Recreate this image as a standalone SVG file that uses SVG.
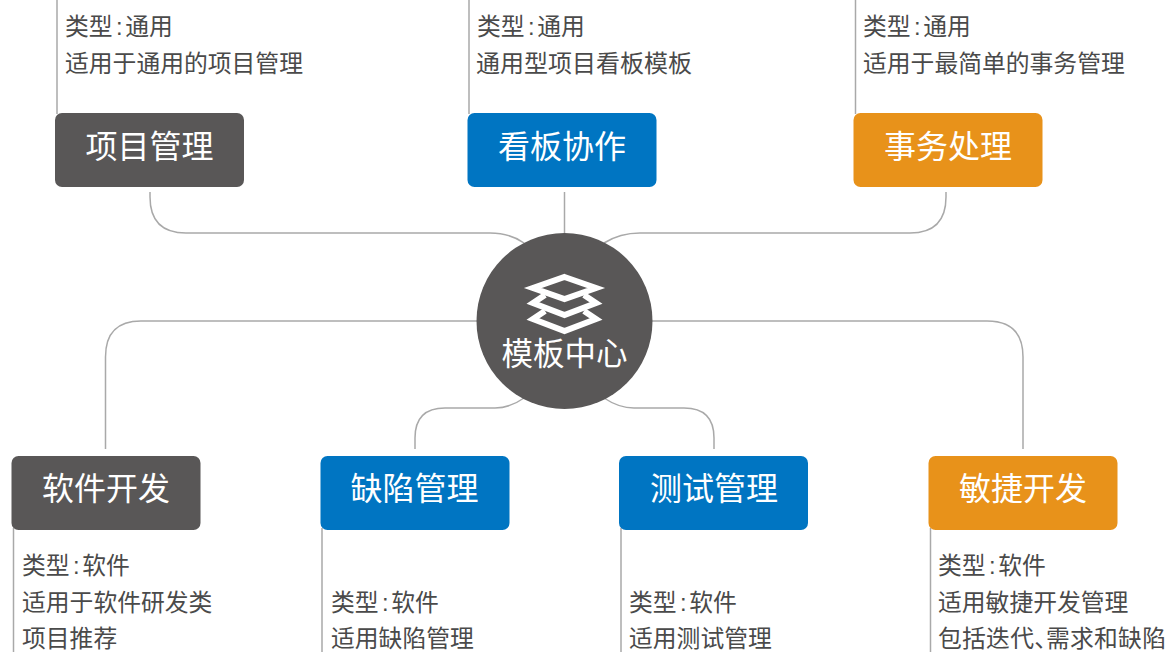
<svg xmlns="http://www.w3.org/2000/svg" width="1170" height="652" viewBox="0 0 1170 652">
<style>
text{font-family:"Liberation Sans","Noto Sans CJK SC",sans-serif}
.t{font-size:32px;fill:#fff;text-anchor:middle}
.d{font-size:23.800px;fill:#4a4a4a}
.c{fill:none;stroke:#a9a9a9;stroke-width:1.5}
.g{fill:#595757}.b{fill:#0075c2}.o{fill:#e8921a}
.s{fill:none;stroke:#fff;stroke-width:6;stroke-linejoin:miter}
</style>
<rect width="1170" height="652" fill="#fff"/>
<g id="connectors" class="c">
<path class="c" d="M150 192V197Q150 233 186 233H490Q510 233 524 243"/>
<path class="c" d="M946 192V197Q946 233 910 233H640Q620 233 604 243"/>
<path class="c" d="M564.500 192V240"/>
<path class="c" d="M105.500 449V357Q105.500 321 141 321H480"/>
<path class="c" d="M1023 449V357Q1023 321 987 321H650"/>
<path class="c" d="M415 449V438Q415 408 445 408H495Q510 408 524 398"/>
<path class="c" d="M714 449V438Q714 408 684 408H634Q619 408 604 398"/>
<path class="c" d="M57 0V114"/>
<path class="c" d="M469 0V114"/>
<path class="c" d="M855.500 0V114"/>
<path class="c" d="M13.500 528V652"/>
<path class="c" d="M322 528V652"/>
<path class="c" d="M621 528V652"/>
<path class="c" d="M930.500 528V652"/>
</g>
<g id="center">
<circle class="g" cx="564.500" cy="321" r="88"/>
<path class="s" d="M564.500 277L596 288L564.500 299L533 288Z"/>
<path class="s" d="M545 295L533 303L564.500 315L596 303L584 295"/>
<path class="s" d="M545 311L533 319L564.500 331L596 319L584 311"/>
<text class="t" x="564.500" y="365" style="font-size:31.500px">模板中心</text>
</g>
<g id="n1"><rect class="g" x="55" y="113" width="189" height="74" rx="7"/><text class="t" x="149.500" y="158">项目管理</text>
<text class="d" x="65" y="35">类型<tspan dx="3.500">:</tspan><tspan dx="2.500">通用</tspan></text><text class="d" x="65" y="72">适用于通用的项目管理</text></g>
<g id="n2"><rect class="b" x="467.500" y="113" width="189" height="74" rx="7"/><text class="t" x="562" y="158">看板协作</text>
<text class="d" x="477" y="35">类型<tspan dx="3.500">:</tspan><tspan dx="2.500">通用</tspan></text><text class="d" x="476" y="72" style="font-size:24px">通用型项目看板模板</text></g>
<g id="n3"><rect class="o" x="853.500" y="113" width="189" height="74" rx="7"/><text class="t" x="948" y="158">事务处理</text>
<text class="d" x="863" y="35">类型<tspan dx="3.500">:</tspan><tspan dx="2.500">通用</tspan></text><text class="d" x="863" y="72">适用于最简单的事务管理</text></g>
<g id="n4"><rect class="g" x="11.500" y="456" width="189" height="74" rx="7"/><text class="t" x="106" y="500">软件开发</text>
<text class="d" x="22" y="574">类型<tspan dx="3.500">:</tspan><tspan dx="2.500">软件</tspan></text><text class="d" x="22" y="611">适用于软件研发类</text><text class="d" x="22" y="647">项目推荐</text></g>
<g id="n5"><rect class="b" x="320.500" y="456" width="189" height="74" rx="7"/><text class="t" x="414.500" y="500">缺陷管理</text>
<text class="d" x="331" y="611">类型<tspan dx="3.500">:</tspan><tspan dx="2.500">软件</tspan></text><text class="d" x="331" y="647">适用缺陷管理</text></g>
<g id="n6"><rect class="b" x="619" y="456" width="189" height="74" rx="7"/><text class="t" x="714" y="500">测试管理</text>
<text class="d" x="629" y="611">类型<tspan dx="3.500">:</tspan><tspan dx="2.500">软件</tspan></text><text class="d" x="629" y="647">适用测试管理</text></g>
<g id="n7"><rect class="o" x="928.500" y="456" width="189" height="74" rx="7"/><text class="t" x="1023" y="500">敏捷开发</text>
<text class="d" x="938" y="574">类型<tspan dx="3.500">:</tspan><tspan dx="2.500">软件</tspan></text><text class="d" x="938" y="611">适用敏捷开发管理</text><text class="d" x="938" y="647" style="letter-spacing:.25px">包括迭代<tspan style="letter-spacing:-12px">、</tspan>需求和缺陷</text></g>
</svg>
